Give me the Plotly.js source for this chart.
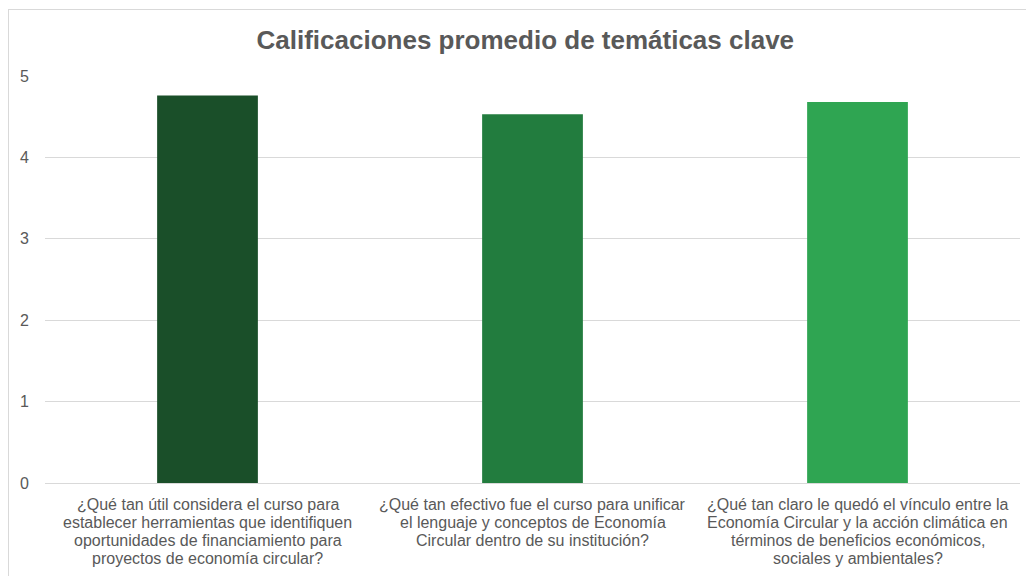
<!DOCTYPE html>
<html>
<head>
<meta charset="utf-8">
<script src="https://cdn.plot.ly/plotly-3.0.1.min.js"></script>
<style>
html,body{margin:0;padding:0;background:#fff;}
#chart{width:1026px;height:576px;position:relative;}
#frame{position:absolute;left:8px;top:9px;width:1030px;height:580px;border-top:1.5px solid #d9d9d9;border-left:1.5px solid #d9d9d9;pointer-events:none;}
</style>
</head>
<body>
<div id="chart"></div>
<div id="frame"></div>
<script>
var categories = [
  "¿Qué tan útil considera el curso para<br>establecer herramientas que identifiquen<br>oportunidades de financiamiento para<br>proyectos de economía circular?",
  "¿Qué tan efectivo fue el curso para unificar<br>el lenguaje y conceptos de Economía<br>Circular dentro de su institución?",
  "¿Qué tan claro le quedó el vínculo entre la<br>Economía Circular y la acción climática en<br>términos de beneficios económicos,<br>sociales y ambientales?"
];
var values = [4.76, 4.53, 4.68];
var barColors = ["#1a4f29", "#227c3e", "#2fa552"];
var yTicks = [0, 1, 2, 3, 4, 5];

var trace = {
  type: "bar",
  x: categories,
  y: values,
  marker: {color: barColors},
  hoverinfo: "y"
};

// category labels drawn line by line (tighter line spacing like the reference)
var annotations = [];
categories.forEach(function (cat) {
  cat.split("<br>").forEach(function (line, j) {
    annotations.push({
      x: cat, xref: "x",
      y: 0, yref: "paper",
      yshift: -(21 + j * 18),
      yanchor: "middle", xanchor: "center",
      text: line, showarrow: false,
      font: {family: "Liberation Sans, Arial, sans-serif", size: 16, color: "#595959"}
    });
  });
});

var layout = {
  width: 1026,
  height: 576,
  margin: {l: 45, r: 6, t: 76, b: 93},
  paper_bgcolor: "#ffffff",
  plot_bgcolor: "#ffffff",
  bargap: 0.69,
  showlegend: false,
  font: {family: "Liberation Sans, Arial, sans-serif", color: "#595959", size: 16},
  title: {
    text: "<b>Calificaciones promedio de temáticas clave</b>",
    font: {family: "Liberation Sans, Arial, sans-serif", size: 26, color: "#595959"},
    x: 0.512, xanchor: "center",
    y: 1 - 40/576, yanchor: "middle", yref: "container"
  },
  annotations: annotations,
  xaxis: {
    type: "category",
    showticklabels: false,
    showgrid: false,
    showline: false,
    ticks: "",
    automargin: false
  },
  yaxis: {
    range: [0, 5],
    tickvals: yTicks,
    ticktext: yTicks.map(String),
    showgrid: true,
    gridcolor: "#d9d9d9",
    gridwidth: 1,
    zeroline: true,
    zerolinecolor: "#d9d9d9",
    zerolinewidth: 1,
    showline: false,
    ticks: "",
    ticklabelstandoff: 15,
    tickfont: {size: 16, color: "#595959"},
    automargin: false
  }
};

Plotly.newPlot("chart", [trace], layout, {displayModeBar: false, staticPlot: true});
</script>
</body>
</html>
